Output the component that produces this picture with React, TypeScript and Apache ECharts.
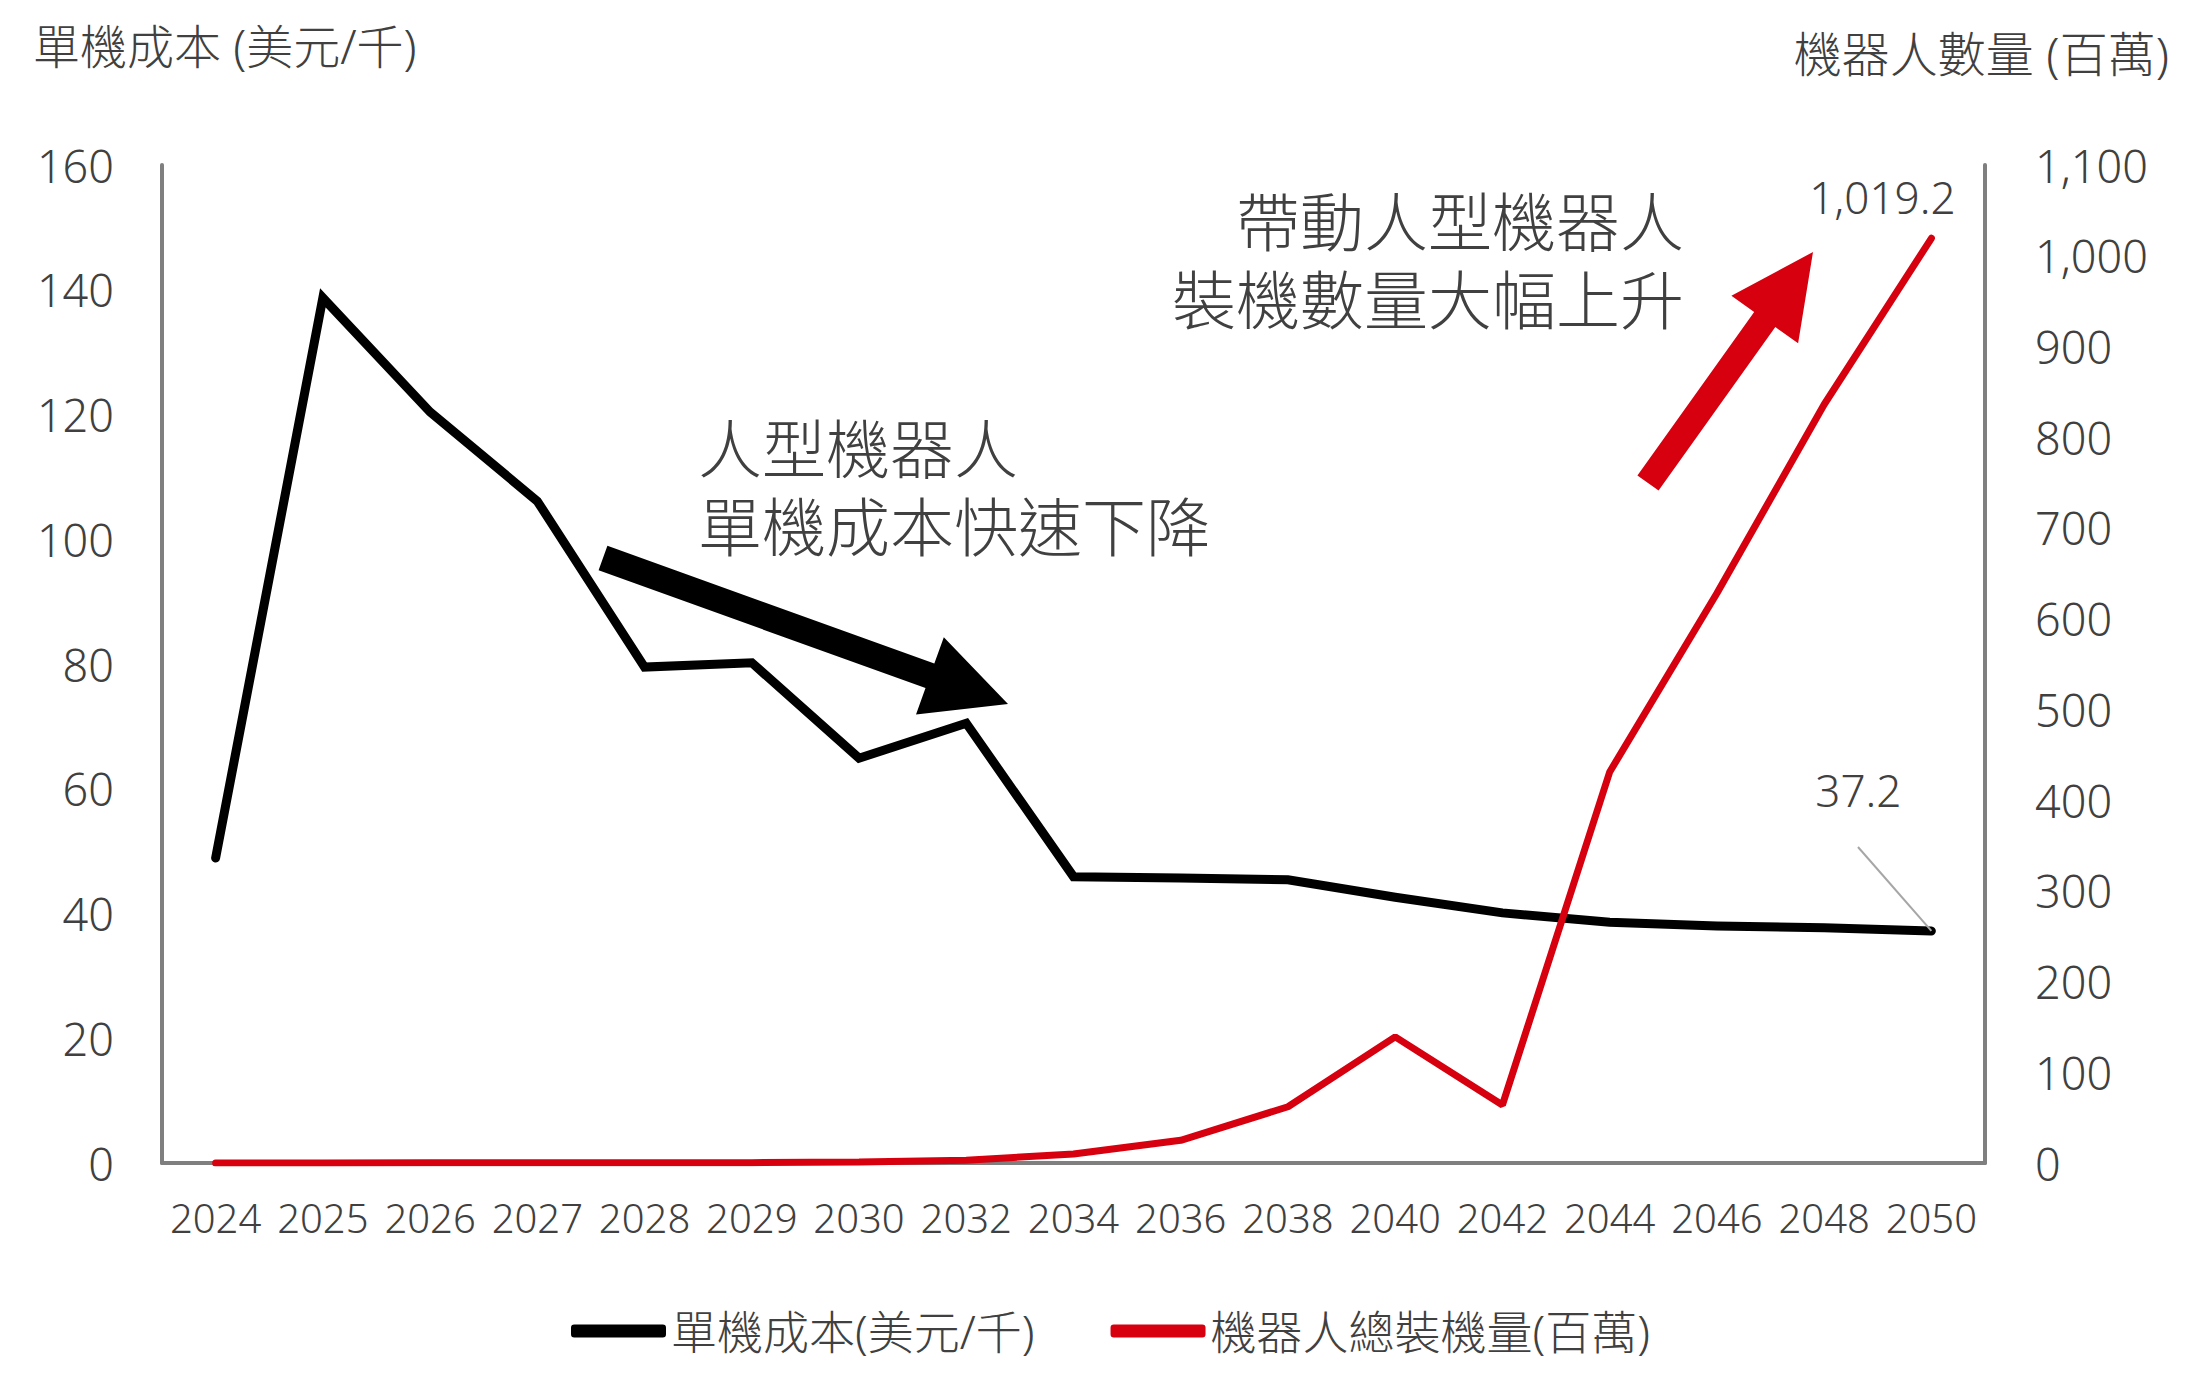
import React, { useEffect, useRef } from 'react';
import * as echarts from 'echarts';

const years = ['2024', '2025', '2026', '2027', '2028', '2029', '2030', '2032', '2034', '2036', '2038', '2040', '2042', '2044', '2046', '2048', '2050'];
// 單機成本 (美元/千)
const unitCost = [48.9, 138.7, 120.4, 106.1, 79.5, 80.2, 64.9, 70.5, 45.9, 45.7, 45.4, 42.6, 40.1, 38.6, 38.0, 37.7, 37.2];
// 機器人總裝機量 (百萬)
const robotUnits = [0.1, 0.1, 0.2, 0.2, 0.3, 0.4, 1, 3, 10, 25, 62, 139, 64, 431, 628, 836, 1019.2];
const seriesNames = ['單機成本(美元/千)', '機器人總裝機量(百萬)'];
const leftTicks = { min: 0, max: 160, interval: 20 };
const rightTicks = { min: 0, max: 1100, interval: 100 };

const FONT = "'Noto Sans', 'Noto Sans CJK TC', sans-serif";
const WEIGHT = 300;
const TEXT = '#404040';
const AXIS = '#7f7f7f';
const RED = '#d7000f';

// block arrow outline: tail -> tip
function arrow(tail: number[], tip: number[], shaft: number, head: number, headLen: number) {
  const dx = tip[0] - tail[0];
  const dy = tip[1] - tail[1];
  const len = Math.hypot(dx, dy);
  const ux = dx / len, uy = dy / len;
  const nx = -uy, ny = ux;
  const bx = tip[0] - ux * headLen, by = tip[1] - uy * headLen;
  return [
    [tail[0] + nx * shaft, tail[1] + ny * shaft],
    [bx + nx * shaft, by + ny * shaft],
    [bx + nx * head, by + ny * head],
    [tip[0], tip[1]],
    [bx - nx * head, by - ny * head],
    [bx - nx * shaft, by - ny * shaft],
    [tail[0] - nx * shaft, tail[1] - ny * shaft],
  ];
}

export default function App() {
  const chartRef = useRef<HTMLDivElement>(null);

  useEffect(() => {
    if (!chartRef.current) return;
    const chart = echarts.init(chartRef.current, null, { renderer: 'svg' });
    const last = years.length - 1;

    chart.setOption({
      animation: false,
      backgroundColor: '#ffffff',
      textStyle: { fontFamily: FONT, color: TEXT, fontWeight: WEIGHT },
      grid: { left: 162, right: 216, top: 165, bottom: 236, containLabel: false },
      legend: {
        left: 566,
        top: 1303,
        itemWidth: 95,
        itemHeight: 13,
        itemGap: 76,
        icon: 'roundRect',
        textStyle: { fontSize: 46, color: TEXT, fontFamily: FONT, fontWeight: WEIGHT },
        data: seriesNames,
      },
      xAxis: {
        type: 'category',
        data: years,
        boundaryGap: true,
        axisLine: { show: true, lineStyle: { color: AXIS, width: 4 } },
        axisTick: { show: false },
        axisLabel: { color: TEXT, fontSize: 40, margin: 34, interval: 0, fontWeight: WEIGHT },
        splitLine: { show: false },
      },
      yAxis: [
        {
          type: 'value',
          ...leftTicks,
          axisLine: { show: true, lineStyle: { color: AXIS, width: 4 } },
          axisTick: { show: false },
          splitLine: { show: false },
          axisLabel: { color: TEXT, fontSize: 45, margin: 48, fontWeight: WEIGHT },
        },
        {
          type: 'value',
          ...rightTicks,
          position: 'right',
          axisLine: { show: true, lineStyle: { color: AXIS, width: 4 } },
          axisTick: { show: false },
          splitLine: { show: false },
          axisLabel: {
            color: TEXT,
            fontSize: 45,
            margin: 50,
            fontWeight: WEIGHT,
            formatter: (v: number) => v.toLocaleString('en-US'),
          },
        },
      ],
      series: [
        {
          name: seriesNames[0],
          type: 'line',
          yAxisIndex: 0,
          data: unitCost.map((v, i) =>
            i === last
              ? {
                  value: v,
                  label: {
                    show: true,
                    position: 'inside',
                    offset: [-73, -141],
                    fontSize: 44,
                    fontWeight: WEIGHT,
                    color: TEXT,
                    formatter: (p: any) => String(p.value),
                  },
                }
              : v
          ),
          showSymbol: true,
          symbol: 'circle',
          symbolSize: 2,
          lineStyle: { color: '#000000', width: 9, cap: 'round', join: 'miter' },
          itemStyle: { color: '#000000' },
          markLine: {
            silent: true,
            symbol: ['none', 'none'],
            label: { show: false },
            lineStyle: { color: '#a6a6a6', width: 2, type: 'solid' },
            emphasis: { disabled: true },
            data: [[{ coord: [years[last], unitCost[last]] }, { x: 1858, y: 847 }]],
          },
          z: 2,
        },
        {
          name: seriesNames[1],
          type: 'line',
          yAxisIndex: 1,
          data: robotUnits.map((v, i) =>
            i === last
              ? {
                  value: v,
                  label: {
                    show: true,
                    position: 'inside',
                    offset: [-49, -41],
                    fontSize: 44,
                    fontWeight: WEIGHT,
                    color: TEXT,
                    formatter: (p: any) =>
                      Number(p.value).toLocaleString('en-US', { minimumFractionDigits: 1, maximumFractionDigits: 1 }),
                  },
                }
              : v
          ),
          showSymbol: true,
          symbol: 'circle',
          symbolSize: 2,
          lineStyle: { color: RED, width: 7, cap: 'round' },
          itemStyle: { color: RED },
          z: 3,
        },
      ],
      graphic: [
        {
          type: 'text',
          x: 33,
          y: 46,
          style: { text: '單機成本 (美元/千)', fontSize: 47, fontFamily: FONT, fontWeight: WEIGHT, fill: TEXT, align: 'left', verticalAlign: 'middle' },
        },
        {
          type: 'text',
          x: 2169,
          y: 53,
          style: { text: '機器人數量 (百萬)', fontSize: 48, fontFamily: FONT, fontWeight: WEIGHT, fill: TEXT, align: 'right', verticalAlign: 'middle' },
        },
        {
          type: 'text',
          x: 698,
          y: 409,
          style: {
            text: '人型機器人\n單機成本快速下降',
            fontSize: 64,
            lineHeight: 78,
            fontFamily: FONT,
            fontWeight: WEIGHT,
            fill: TEXT,
            align: 'left',
            verticalAlign: 'top',
          },
        },
        {
          type: 'text',
          x: 1684,
          y: 182,
          style: {
            text: '帶動人型機器人\n裝機數量大幅上升',
            fontSize: 64,
            lineHeight: 78,
            fontFamily: FONT,
            fontWeight: WEIGHT,
            fill: TEXT,
            align: 'right',
            verticalAlign: 'top',
          },
        },
        {
          type: 'polygon',
          shape: { points: arrow([603, 558], [1008, 704], 13, 41, 83) },
          style: { fill: '#000000' },
          z: 10,
        },
        {
          type: 'polygon',
          shape: { points: arrow([1648, 483], [1813, 252], 13, 41, 83) },
          style: { fill: RED },
          z: 10,
        },
      ],
    });

    return () => {
      chart.dispose();
    };
  }, []);

  return (
    <div style={{ position: 'absolute', left: 0, top: 0, width: 2201, height: 1399, background: '#fff' }}>
      <div ref={chartRef} style={{ width: '100%', height: '100%' }} />
    </div>
  );
}
